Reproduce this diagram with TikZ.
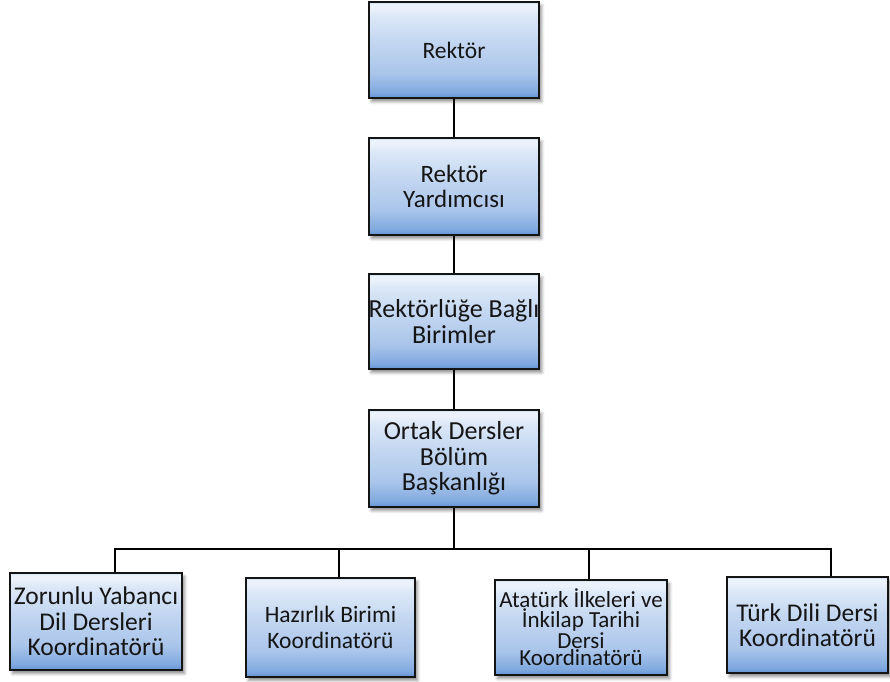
\documentclass[tikz,border=0pt]{standalone}
\usepackage{fontspec}
\setmainfont{Carlito}
\usetikzlibrary{shadows.blur}
\definecolor{bbot}{HTML}{6393D3}
\definecolor{blow}{HTML}{80A9DF}
\definecolor{bmid}{HTML}{AAC5EA}
\definecolor{bmid2}{HTML}{C4D7F1}
\definecolor{bhi}{HTML}{DCE8F7}
\definecolor{bwhite}{HTML}{EBF2FB}
\definecolor{btop}{HTML}{C8DAF2}
\definecolor{txt}{HTML}{151515}
\pgfdeclareverticalshading{boxshade}{100bp}{color(0bp)=(bbot); color(25bp)=(bbot); color(28bp)=(blow); color(38bp)=(bmid); color(55bp)=(bmid2); color(68bp)=(bhi); color(72bp)=(bwhite); color(74bp)=(bwhite); color(75bp)=(btop); color(100bp)=(btop)}
\tikzset{
  orgbox/.style={draw=black!92, line width=2.2pt, shading=boxshade,
    blur shadow={shadow xshift=2.5pt, shadow yshift=-3.5pt, shadow blur radius=3pt, shadow opacity=45},
    align=center, inner sep=0pt, text=txt, font=\fontsize{24}{25.5}\selectfont},
  conn/.style={draw=black, line width=2.8pt}
}
\begin{document}
\begin{tikzpicture}[x=1pt,y=-1pt]
\useasboundingbox (0,0) rectangle (890,681);
\node[orgbox, minimum width=170pt, minimum height=96pt, font=\fontsize{23.5}{25.5}\selectfont] (b1) at (454,50) {Rektör};
\node[orgbox, minimum width=170pt, minimum height=97pt, font=\fontsize{25}{25.5}\selectfont] (b2) at (454,186.5) {Rektör\\Yardımcısı};
\node[orgbox, minimum width=170pt, minimum height=95pt, font=\fontsize{26}{25.5}\selectfont] (b3) at (454,321.5) {Rektörlüğe Bağlı\\Birimler};
\node[orgbox, minimum width=170pt, minimum height=97pt, font=\fontsize{26}{25.5}\selectfont] (b4) at (454,458.5) {Ortak Dersler\\Bölüm\\Başkanlığı};
\node[orgbox, minimum width=172pt, minimum height=97pt, font=\fontsize{25.5}{25.5}\selectfont] (c1) at (96,621.5) {Zorunlu Yabancı\\Dil Dersleri\\Koordinatörü};
\node[orgbox, minimum width=169pt, minimum height=99pt, font=\fontsize{23.5}{25.5}\selectfont] (c2) at (330.5,627.5) {Hazırlık Birimi\\Koordinatörü};
\node[orgbox, minimum width=172pt, minimum height=95pt, font=\fontsize{23}{17.8}\selectfont] (c3) at (581,627.5) {Atatürk İlkeleri ve\\İnkilap Tarihi\\Dersi\\Koordinatörü};
\node[orgbox, minimum width=161pt, minimum height=96pt, font=\fontsize{25.5}{25.5}\selectfont] (c4) at (807.5,625) {Türk Dili Dersi\\Koordinatörü};
\coordinate (d1) at (115,549);
\coordinate (d2) at (339,549);
\coordinate (d3) at (589,549);
\coordinate (d4) at (831,549);
\draw[conn] (b1) -- (b2);
\draw[conn] (b2) -- (b3);
\draw[conn] (b3) -- (b4);
\draw[conn] (b4.south) -- (b4.south |- d1);
\draw[conn] (d1 |- c1.north) -- (d1) -- (d4) -- (d4 |- c4.north);
\draw[conn] (d2) -- (d2 |- c2.north);
\draw[conn] (d3) -- (d3 |- c3.north);
\end{tikzpicture}
\end{document}
